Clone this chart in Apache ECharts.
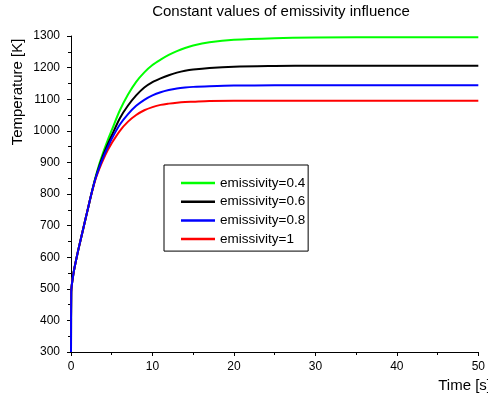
<!DOCTYPE html>
<html>
<head>
<meta charset="utf-8">
<script src="https://cdn.jsdelivr.net/npm/echarts@6/dist/echarts.min.js"></script>
<style>
  html, body { margin: 0; padding: 0; background: #fff; }
  #chart { width: 488px; height: 400px; }
</style>
</head>
<body>
<div id="chart"></div>
<script>
// time points [s]
var times = [0, 0.03, 0.3, 0.7, 1, 1.5, 2, 2.5, 3, 3.5, 4, 4.5, 5, 6, 7, 8, 9, 10, 11, 12, 13, 14, 15, 17, 20, 25, 30, 40, 50];
// temperature [K] per emissivity
var eps04 = [300, 490, 548, 600, 635, 690, 745, 800, 852, 897, 935, 970, 1002, 1065, 1115, 1155, 1185, 1208, 1225, 1240, 1252, 1262, 1270, 1280, 1288, 1293, 1295, 1296, 1296];
var eps06 = [300, 490, 548, 600, 635, 690, 745, 800, 850, 891, 926, 957, 985, 1040, 1080, 1112, 1137, 1154, 1166, 1176, 1184, 1190, 1194, 1199, 1203, 1205, 1206, 1206, 1206];
var eps08 = [300, 490, 548, 600, 635, 690, 745, 800, 848, 886, 919, 948, 975, 1020, 1053, 1079, 1098, 1112, 1122, 1129, 1134, 1137, 1139, 1141, 1143, 1144, 1144, 1144, 1144];
var eps1  = [300, 490, 548, 600, 635, 690, 745, 799, 846, 881, 911, 938, 961, 1000, 1029, 1050, 1065, 1075, 1082, 1086, 1089, 1091, 1092, 1094, 1095, 1095, 1095, 1095, 1095];

var seriesNames = ['emissivity=0.4', 'emissivity=0.6', 'emissivity=0.8', 'emissivity=1'];
var seriesColors = ['#00ff00', '#000000', '#0000ff', '#ff0000'];

function pairs(vals) {
  return times.map(function (t, i) { return [t, vals[i]]; });
}

function makeSeries(name, vals, color, z) {
  return {
    name: name,
    type: 'line',
    data: pairs(vals),
    symbol: 'none',
    smooth: 0.3,
    z: z,
    lineStyle: { color: color, width: 2 },
    itemStyle: { color: color }
  };
}

var chart = echarts.init(document.getElementById('chart'));
var font = 'Arial, "Liberation Sans", sans-serif';

chart.setOption({
  animation: false,
  textStyle: { fontFamily: font },
  title: {
    text: 'Constant values of emissivity influence',
    left: 276,
    textAlign: 'center',
    top: -1,
    textStyle: { fontSize: 15, fontWeight: 'normal', color: '#000', fontFamily: font }
  },
  grid: { left: 71, right: 5.5, top: 36, bottom: 48, containLabel: false },
  legend: {
    data: seriesNames,
    orient: 'vertical',
    left: 164,
    top: 165,
    padding: [11, 3, 5, 17],
    icon: 'rect',
    itemWidth: 34,
    itemHeight: 2.5,
    itemGap: 4.7,
    borderColor: '#000',
    borderWidth: 1,
    textStyle: { fontSize: 13.5, color: '#000', fontFamily: font }
  },
  xAxis: {
    type: 'value',
    min: 0, max: 50, interval: 10,
    axisLine: { show: true, onZero: false, lineStyle: { color: '#000', width: 1 } },
    axisTick: { show: true, inside: false, length: 4, lineStyle: { color: '#000' } },
    minorTick: { show: true, splitNumber: 2, length: 3, lineStyle: { color: '#000' } },
    splitLine: { show: false },
    axisLabel: { fontSize: 12, color: '#000', margin: 9 }
  },
  yAxis: {
    type: 'value',
    min: 300, max: 1300, interval: 100,
    axisLine: { show: true, onZero: false, lineStyle: { color: '#000', width: 1 } },
    axisTick: { show: true, inside: false, length: 4, lineStyle: { color: '#000' } },
    minorTick: { show: true, splitNumber: 2, length: 3, lineStyle: { color: '#000' } },
    splitLine: { show: false },
    axisLabel: {
      fontSize: 12, color: '#000', margin: 11,
      formatter: function (v) { return String(v); }
    }
  },
  graphic: [
    {
      type: 'text',
      x: 18, y: 92,
      rotation: Math.PI / 2,
      style: {
        text: 'Temperature [K]',
        fontSize: 15, fontFamily: font, fill: '#000',
        align: 'center', verticalAlign: 'middle'
      }
    },
    {
      type: 'text',
      x: 491, y: 386,
      style: {
        text: 'Time [s]',
        fontSize: 15, fontFamily: font, fill: '#000',
        align: 'right', verticalAlign: 'middle'
      }
    }
  ],
  series: [
    makeSeries(seriesNames[0], eps04, seriesColors[0], 2),
    makeSeries(seriesNames[1], eps06, seriesColors[1], 3),
    makeSeries(seriesNames[3], eps1, seriesColors[3], 4),
    makeSeries(seriesNames[2], eps08, seriesColors[2], 5)
  ]
});
</script>
</body>
</html>
